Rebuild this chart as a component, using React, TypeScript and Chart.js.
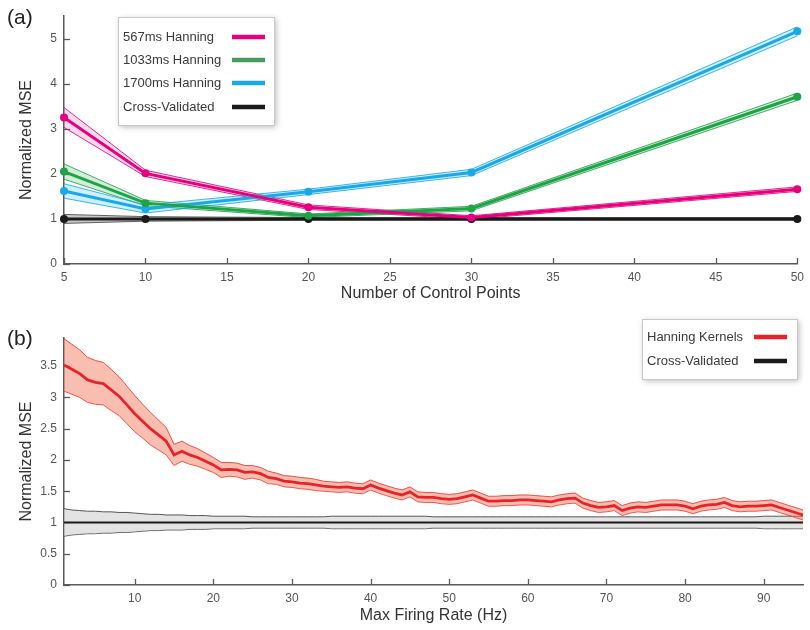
import React, { useEffect, useRef } from "react";
import { Chart, registerables } from "chart.js";
Chart.register(...registerables);

const FONT = "'Liberation Sans', Arial, Helvetica, sans-serif";

// ---------- Panel (a) ----------
const controlPoints = [5, 10, 20, 30, 50];
const hann567 = [3.25, 2.01, 1.26, 1.03, 1.66];
const hann567Err = [0.22, 0.07, 0.05, 0.04, 0.05];
const hann1033 = [2.05, 1.35, 1.07, 1.23, 3.71];
const hann1033Err = [0.17, 0.06, 0.04, 0.05, 0.08];
const hann1700 = [1.62, 1.22, 1.6, 2.03, 5.16];
const hann1700Err = [0.16, 0.09, 0.06, 0.07, 0.1];
const crossValA = [1.0, 1.0, 1.0, 1.0, 1.0];
const crossValAErr = [0.1, 0.05, 0.03, 0.03, 0.03];
const xTicksA = [5, 10, 15, 20, 25, 30, 35, 40, 45, 50];
const yTicksA = [0, 1, 2, 3, 4, 5];
const legendA = ["567ms Hanning", "1033ms Hanning", "1700ms Hanning", "Cross-Validated"];

// ---------- Panel (b) ----------
const firingRates = Array.from({ length: 95 }, (_, i) => i + 1);
const hanningMean = [
  3.52, 3.45, 3.38, 3.28, 3.24, 3.22, 3.12, 3.02, 2.88, 2.74,
  2.62, 2.5, 2.4, 2.3, 2.08, 2.14, 2.08, 2.04, 1.98, 1.92,
  1.84, 1.85, 1.84, 1.8, 1.81, 1.78, 1.72, 1.7, 1.66, 1.65,
  1.63, 1.62, 1.6, 1.58, 1.57, 1.56, 1.57, 1.55, 1.54, 1.6,
  1.55, 1.51, 1.47, 1.44, 1.49, 1.41, 1.4, 1.4, 1.38, 1.37,
  1.38, 1.41, 1.44, 1.39, 1.34, 1.34, 1.35, 1.35, 1.36, 1.36,
  1.35, 1.34, 1.33, 1.36, 1.38, 1.39, 1.31, 1.27, 1.24, 1.25,
  1.27, 1.19, 1.23, 1.25, 1.24, 1.26, 1.28, 1.28, 1.28, 1.26,
  1.22, 1.26, 1.28, 1.29, 1.32, 1.27, 1.25, 1.26, 1.26, 1.27,
  1.28, 1.24, 1.2, 1.16, 1.12,
];
const hanningErr = [
  0.42, 0.4, 0.38, 0.36, 0.35, 0.34, 0.33, 0.31, 0.3, 0.29,
  0.27, 0.26, 0.24, 0.22, 0.17, 0.16, 0.15, 0.14, 0.13, 0.12,
  0.12, 0.11, 0.11, 0.11, 0.1, 0.1, 0.1, 0.09, 0.09, 0.09,
  0.09, 0.09, 0.09, 0.08, 0.08, 0.08, 0.08, 0.08, 0.08, 0.08,
  0.08, 0.08, 0.08, 0.08, 0.08, 0.08, 0.08, 0.08, 0.08, 0.08,
  0.08, 0.08, 0.08, 0.08, 0.08, 0.08, 0.08, 0.08, 0.08, 0.08,
  0.08, 0.08, 0.08, 0.08, 0.08, 0.08, 0.08, 0.08, 0.08, 0.08,
  0.08, 0.08, 0.08, 0.08, 0.08, 0.08, 0.08, 0.08, 0.08, 0.08,
  0.08, 0.08, 0.08, 0.08, 0.08, 0.08, 0.08, 0.08, 0.08, 0.08,
  0.08, 0.08, 0.08, 0.08, 0.08,
];
const crossValB = [
  1, 1, 1, 1, 1, 1, 1, 1, 1, 1, 1, 1, 1, 1, 1, 1, 1, 1, 1, 1,
  1, 1, 1, 1, 1, 1, 1, 1, 1, 1, 1, 1, 1, 1, 1, 1, 1, 1, 1, 1,
  1, 1, 1, 1, 1, 1, 1, 1, 1, 1, 1, 1, 1, 1, 1, 1, 1, 1, 1, 1,
  1, 1, 1, 1, 1, 1, 1, 1, 1, 1, 1, 1, 1, 1, 1, 1, 1, 1, 1, 1,
  1, 1, 1, 1, 1, 1, 1, 1, 1, 1, 1, 1, 1, 1, 1,
];
const crossValBErr = [
  0.22, 0.2, 0.19, 0.18, 0.18, 0.17, 0.17, 0.16, 0.16, 0.15,
  0.14, 0.13, 0.13, 0.12, 0.12, 0.12, 0.11, 0.11, 0.11, 0.1,
  0.1, 0.1, 0.1, 0.1, 0.09, 0.09, 0.09, 0.09, 0.09, 0.09,
  0.09, 0.09, 0.09, 0.09, 0.1, 0.1, 0.1, 0.1, 0.1, 0.1,
  0.1, 0.1, 0.1, 0.1, 0.1, 0.1, 0.1, 0.09, 0.09, 0.09,
  0.09, 0.09, 0.09, 0.09, 0.09, 0.09, 0.09, 0.09, 0.09, 0.09,
  0.09, 0.09, 0.09, 0.09, 0.09, 0.09, 0.09, 0.09, 0.09, 0.09,
  0.09, 0.09, 0.09, 0.09, 0.09, 0.09, 0.09, 0.09, 0.09, 0.09,
  0.09, 0.09, 0.09, 0.09, 0.09, 0.09, 0.09, 0.09, 0.09, 0.1,
  0.1, 0.1, 0.1, 0.1, 0.1,
];
const xTicksB = [10, 20, 30, 40, 50, 60, 70, 80, 90];
const yTicksB = [0, 0.5, 1, 1.5, 2, 2.5, 3, 3.5];
const legendB = ["Hanning Kernels", "Cross-Validated"];

// ---------- colours ----------
const PINK = "#e5007d";
const GREEN = "#1fa347";
const BLUE = "#19a9ea";
const BLACK = "#1a1a1a";
const RED = "#e82229";

type Pt = { x: number; y: number };
const pts = (xs: number[], ys: number[]): Pt[] => xs.map((x, i) => ({ x, y: ys[i] }));
const shift = (ys: number[], err: number[], s: number) => ys.map((v, i) => v + s * err[i]);

function bandAndLine(
  label: string, xs: number[], mean: number[], err: number[],
  lineColor: string, edgeColor: string, fillColor: string,
  lineWidth: number, pointRadius: number, lineOrder: number, bandOrder: number
) {
  return [
    {
      label: label + " upper", data: pts(xs, shift(mean, err, 1)),
      borderColor: edgeColor, borderWidth: 1, backgroundColor: fillColor,
      fill: "+1", pointRadius: 0, order: bandOrder, clip: false,
    },
    {
      label: label + " lower", data: pts(xs, shift(mean, err, -1)),
      borderColor: edgeColor, borderWidth: 1, fill: false, pointRadius: 0,
      order: bandOrder, clip: false,
    },
    {
      label, data: pts(xs, mean), borderColor: lineColor, backgroundColor: lineColor,
      borderWidth: lineWidth, pointRadius, pointHoverRadius: pointRadius,
      pointBorderWidth: 0, fill: false, order: lineOrder, clip: false,
    },
  ];
}

function scalesFor(
  xMin: number, xMax: number, xTicks: number[], xTitle: string, xTitlePad: number, xHeight: number,
  yMin: number, yMax: number, yTicks: number[]
) {
  return {
    x: {
      type: "linear", min: xMin, max: xMax,
      afterBuildTicks: (s: any) => { s.ticks = xTicks.map((v) => ({ value: v })); },
      afterFit: (s: any) => { s.height = xHeight; },
      grid: { display: false, drawTicks: false },
      border: { display: true, color: "#5a5a5a", width: 1.5 },
      ticks: { color: "#555", font: { family: FONT, size: 12 }, padding: 6, maxRotation: 0, autoSkip: false, callback: (v: any) => String(v) },
      title: { display: true, text: xTitle, color: "#333", font: { family: FONT, size: 16 }, padding: { top: 0, bottom: xTitlePad } },
    },
    y: {
      type: "linear", min: yMin, max: yMax,
      afterBuildTicks: (s: any) => { s.ticks = yTicks.map((v) => ({ value: v })); },
      afterFit: (s: any) => { s.width = 64; },
      grid: { display: false, drawTicks: false },
      border: { display: true, color: "#5a5a5a", width: 1.5 },
      ticks: { color: "#555", font: { family: FONT, size: 12 }, padding: 7, autoSkip: false, callback: (v: any) => String(v) },
      title: { display: true, text: "Normalized MSE", color: "#333", font: { family: FONT, size: 16 }, padding: { top: 17, bottom: 0 } },
    },
  };
}

const inwardTicks = {
  id: "inwardTicks",
  beforeDatasetsDraw(chart: any) {
    const { ctx } = chart;
    const xs = chart.scales.x;
    const ys = chart.scales.y;
    ctx.save();
    ctx.strokeStyle = "#5a5a5a";
    ctx.lineWidth = 1.3;
    xs.ticks.forEach((t: any) => {
      const px = Math.round(xs.getPixelForValue(t.value)) + 0.5;
      ctx.beginPath();
      ctx.moveTo(px, xs.top);
      ctx.lineTo(px, xs.top - 6);
      ctx.stroke();
    });
    ys.ticks.forEach((t: any) => {
      const py = Math.round(ys.getPixelForValue(t.value)) + 0.5;
      ctx.beginPath();
      ctx.moveTo(ys.right, py);
      ctx.lineTo(ys.right + 6, py);
      ctx.stroke();
    });
    ctx.restore();
  },
};

function makeOverlay(panel: string, panelY: number, box: { x: number; y: number; w: number; h: number },
  labels: string[], colors: string[], rowY: number[], swX: number, swW: number) {
  return {
    id: "overlay" + panel,
    afterDraw(chart: any) {
      const { ctx } = chart;
      ctx.save();
      ctx.font = `21px ${FONT}`;
      ctx.fillStyle = "#222";
      ctx.textBaseline = "middle";
      ctx.textAlign = "left";
      ctx.fillText(panel, 7, panelY);
      // legend box with shadow
      ctx.shadowColor = "rgba(0,0,0,0.28)";
      ctx.shadowBlur = 6;
      ctx.shadowOffsetX = 2;
      ctx.shadowOffsetY = 2;
      ctx.fillStyle = "#fff";
      ctx.fillRect(box.x, box.y, box.w, box.h);
      ctx.shadowColor = "transparent";
      ctx.strokeStyle = "#c8c8c8";
      ctx.lineWidth = 1;
      ctx.strokeRect(box.x + 0.5, box.y + 0.5, box.w, box.h);
      ctx.font = `13px ${FONT}`;
      labels.forEach((lab, i) => {
        ctx.fillStyle = "#3a3a3a";
        ctx.fillText(lab, box.x + 5, rowY[i]);
        ctx.strokeStyle = colors[i];
        ctx.lineWidth = 4.5;
        ctx.lineCap = "butt";
        ctx.beginPath();
        ctx.moveTo(swX, rowY[i]);
        ctx.lineTo(swX + swW, rowY[i]);
        ctx.stroke();
      });
      ctx.restore();
    },
  };
}

export default function App() {
  const refA = useRef<HTMLCanvasElement>(null);
  const refB = useRef<HTMLCanvasElement>(null);

  useEffect(() => {
    const dsA = [
      ...bandAndLine("Cross-Validated", controlPoints, crossValA, crossValAErr, BLACK, "rgba(40,40,40,0.7)", "rgba(40,40,40,0.25)", 3, 4, 4, 20),
      ...bandAndLine("1700ms Hanning", controlPoints, hann1700, hann1700Err, BLUE, "rgba(25,169,234,0.85)", "rgba(25,169,234,0.2)", 3, 4, 3, 20),
      ...bandAndLine("1033ms Hanning", controlPoints, hann1033, hann1033Err, GREEN, "rgba(31,163,71,0.85)", "rgba(31,163,71,0.2)", 3, 4, 2, 20),
      ...bandAndLine("567ms Hanning", controlPoints, hann567, hann567Err, PINK, "rgba(229,0,125,0.85)", "rgba(229,0,125,0.15)", 3, 4, 1, 20),
    ];
    const chartA = new Chart(refA.current as HTMLCanvasElement, {
      type: "line",
      data: { datasets: dsA as any },
      options: {
        animation: false,
        responsive: false,
        maintainAspectRatio: false,
        layout: { padding: { top: 16, right: 7, bottom: 0, left: 0 } },
        plugins: { legend: { display: false }, tooltip: { enabled: false } },
        elements: { line: { tension: 0 } },
        scales: scalesFor(5, 50, xTicksA, "Number of Control Points", 12, 51, 0, 5.5, yTicksA) as any,
      },
      plugins: [
        inwardTicks,
        makeOverlay("(a)", 18, { x: 118, y: 17, w: 156, h: 108 }, legendA,
          [PINK, "#4a9a60", BLUE, BLACK], [37, 60, 83, 107], 232, 33),
      ],
    });

    const dsB = [
      ...bandAndLine("Hanning Kernels", firingRates, hanningMean, hanningErr, RED, "rgba(240,60,50,0.9)", "rgba(244,110,80,0.45)", 2.8, 0, 1, 9),
      ...bandAndLine("Cross-Validated", firingRates, crossValB, crossValBErr, BLACK, "#555", "rgba(200,200,200,0.5)", 2, 0, 2, 10),
    ];
    const chartB = new Chart(refB.current as HTMLCanvasElement, {
      type: "line",
      data: { datasets: dsB as any },
      options: {
        animation: false,
        responsive: false,
        maintainAspectRatio: false,
        layout: { padding: { top: 23, right: 7, bottom: 0, left: 0 } },
        plugins: { legend: { display: false }, tooltip: { enabled: false } },
        elements: { line: { tension: 0 } },
        scales: scalesFor(1, 95, xTicksB, "Max Firing Rate (Hz)", 5, 45, 0, 3.95, yTicksB) as any,
      },
      plugins: [
        inwardTicks,
        makeOverlay("(b)", 24, { x: 642, y: 4, w: 155, h: 60 }, legendB,
          [RED, BLACK], [22, 46], 754, 33),
      ],
    });

    return () => {
      chartA.destroy();
      chartB.destroy();
    };
  }, []);

  return (
    <div style={{ position: "fixed", left: 0, top: 0, width: 810, height: 630, background: "#fff" }}>
      <canvas ref={refA} width={810} height={315} style={{ position: "absolute", left: 0, top: 0, width: 810, height: 315 }} />
      <canvas ref={refB} width={810} height={315} style={{ position: "absolute", left: 0, top: 315, width: 810, height: 315 }} />
    </div>
  );
}
